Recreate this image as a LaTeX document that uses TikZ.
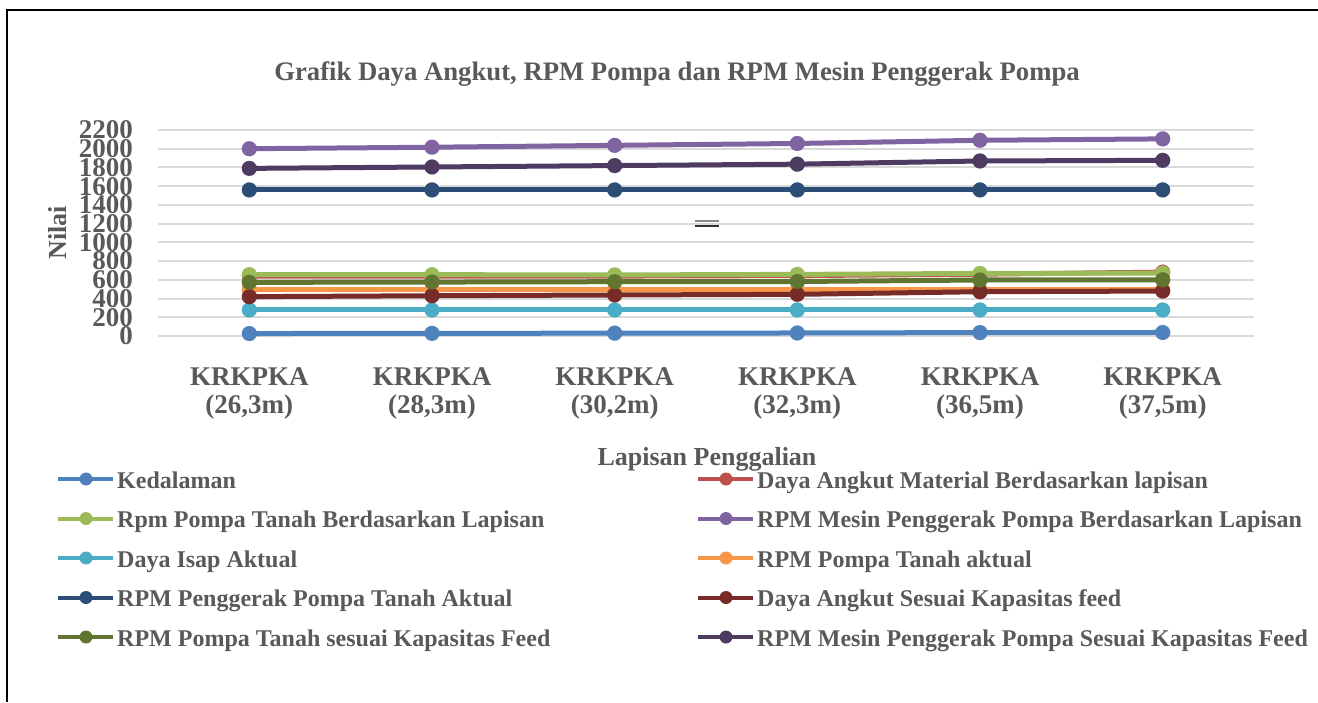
\documentclass[tikz,border=0pt]{standalone}
\usepackage{fontspec}
\setmainfont{Liberation Serif}
\usetikzlibrary{calc}
\definecolor{kedalaman}{HTML}{4F81BD}
\definecolor{angkutlapisan}{HTML}{C0504D}
\definecolor{pompalapisan}{HTML}{9BBB59}
\definecolor{mesinlapisan}{HTML}{8064A2}
\definecolor{isapaktual}{HTML}{4BACC6}
\definecolor{pompaaktual}{HTML}{F79646}
\definecolor{penggerakaktual}{HTML}{2C4D75}
\definecolor{angkutfeed}{HTML}{772C2A}
\definecolor{pompafeed}{HTML}{5F7530}
\definecolor{mesinfeed}{HTML}{4D3B62}
\definecolor{labelgray}{HTML}{595959}
\definecolor{gridgray}{HTML}{D9D9D9}
\def\serie[#1](#2,#3,#4,#5,#6,#7){\draw[serie,#1] plot coordinates {(249.3,#2) (432,#3) (614.7,#4) (797.3,#5) (980,#6) (1162.7,#7)};}
\def\legendkey[#1](#2,#3)#4#5{\draw[keyline,#4] ($(#2,#3)+(-28,0)$) -- ($(#2,#3)+(27,0)$);
	\fill[#4] (#2,#3) circle (6.5pt);
	\node[keytext] (#1) at ($(#2,#3)+(31,9)$) {#5};}

\begin{document}
\begin{tikzpicture}[x=1pt, y=-1pt,
	serie/.style={line width=5pt, line join=round, mark=*, mark size=7.5pt, mark options={line width=0.1pt}},
	keyline/.style={line width=4pt},
	keytext/.style={anchor=base west, inner sep=0pt, text=labelgray, font=\fontsize{24}{26}\selectfont\bfseries},
	ticktext/.style={anchor=east, inner sep=0pt, text=labelgray, font=\fontsize{27}{27}\selectfont\bfseries},
	cattext/.style={anchor=base, inner sep=0pt, align=center, text=labelgray, font=\fontsize{27}{28}\selectfont\bfseries},
	grid/.style={line width=2pt, color=gridgray}]
		%%%%% START %%%%%
		
		\useasboundingbox (0, 0) rectangle (1318, 702);
		\draw[line width=2pt] (7, 702) -- (7, 10) -- (1318, 10);
		
		\node[anchor=base, text=labelgray, font=\fontsize{26.7}{27}\selectfont\bfseries] (title) at (677, 80) {Grafik Daya Angkut, RPM Pompa dan RPM Mesin Penggerak Pompa};
		
		\begin{scope}[yshift=-336pt, y=0.093636pt]
		\draw[grid] (158, 0) -- (1254, 0);
		\draw[grid] (158, 200) -- (1254, 200);
		\draw[grid] (158, 400) -- (1254, 400);
		\draw[grid] (158, 600) -- (1254, 600);
		\draw[grid] (158, 800) -- (1254, 800);
		\draw[grid] (158, 1000) -- (1254, 1000);
		\draw[grid] (158, 1200) -- (1254, 1200);
		\draw[grid] (158, 1400) -- (1254, 1400);
		\draw[grid] (158, 1600) -- (1254, 1600);
		\draw[grid] (158, 1800) -- (1254, 1800);
		\draw[grid] (158, 2000) -- (1254, 2000);
		\draw[grid] (158, 2200) -- (1254, 2200);
		
		\node[ticktext] (t0) at (133, 0) {0};
		\node[ticktext] (t200) at (133, 200) {200};
		\node[ticktext] (t400) at (133, 400) {400};
		\node[ticktext] (t600) at (133, 600) {600};
		\node[ticktext] (t800) at (133, 800) {800};
		\node[ticktext] (t1000) at (133, 1000) {1000};
		\node[ticktext] (t1200) at (133, 1200) {1200};
		\node[ticktext] (t1400) at (133, 1400) {1400};
		\node[ticktext] (t1600) at (133, 1600) {1600};
		\node[ticktext] (t1800) at (133, 1800) {1800};
		\node[ticktext] (t2000) at (133, 2000) {2000};
		\node[ticktext] (t2200) at (133, 2200) {2200};
		
		\serie[kedalaman](26.3, 28.3, 30.2, 32.3, 36.5, 37.5)
		\serie[angkutlapisan](640, 640, 640, 645, 660, 682)
		\serie[pompalapisan](655, 655, 652, 658, 668, 672)
		\serie[mesinlapisan](2000, 2016, 2036, 2056, 2090, 2105)
		\serie[isapaktual](278, 278, 278, 278, 278, 278)
		\serie[pompaaktual](495, 495, 495, 495, 495, 495)
		\serie[penggerakaktual](1560, 1560, 1560, 1560, 1560, 1560)
		\serie[angkutfeed](420, 430, 438, 445, 473, 480)
		\serie[pompafeed](573, 576, 580, 582, 598, 600)
		\serie[mesinfeed](1790, 1805, 1820, 1835, 1869, 1876)
		\end{scope}
		
		\draw[line width=1.5pt, color=black!45] (695, 221) -- (719, 221);
		\draw[line width=1.8pt, color=black!80] (695, 226) -- (719, 226);
		
		\node[cattext] (c1) at (249.3, 413) {KRKPKA\\(26,3m)};
		\node[cattext] (c2) at (432, 413) {KRKPKA\\(28,3m)};
		\node[cattext] (c3) at (614.7, 413) {KRKPKA\\(30,2m)};
		\node[cattext] (c4) at (797.3, 413) {KRKPKA\\(32,3m)};
		\node[cattext] (c5) at (980, 413) {KRKPKA\\(36,5m)};
		\node[cattext] (c6) at (1162.7, 413) {KRKPKA\\(37,5m)};
		
		\node[anchor=base, inner sep=0pt, text=labelgray, font=\fontsize{26}{26}\selectfont\bfseries] (xtitle) at (707, 465) {Lapisan Penggalian};
		\node[rotate=90, inner sep=0pt, text=labelgray, font=\fontsize{26}{26}\selectfont\bfseries] (ytitle) at (58, 233) {Nilai};
		
		\legendkey[k1](86, 479){kedalaman}{Kedalaman}
		\legendkey[k3](86, 518.5){pompalapisan}{Rpm Pompa Tanah Berdasarkan Lapisan}
		\legendkey[k5](86, 558){isapaktual}{Daya Isap Aktual}
		\legendkey[k7](86, 597.5){penggerakaktual}{RPM Penggerak Pompa Tanah Aktual}
		\legendkey[k9](86, 637){pompafeed}{RPM Pompa Tanah sesuai Kapasitas Feed}
		\legendkey[k2](726, 479){angkutlapisan}{Daya Angkut Material Berdasarkan lapisan}
		\legendkey[k4](726, 518.5){mesinlapisan}{RPM Mesin Penggerak Pompa Berdasarkan Lapisan}
		\legendkey[k6](726, 558){pompaaktual}{RPM Pompa Tanah aktual}
		\legendkey[k8](726, 597.5){angkutfeed}{Daya Angkut Sesuai Kapasitas feed}
		\legendkey[k10](726, 637){mesinfeed}{RPM Mesin Penggerak Pompa Sesuai Kapasitas Feed}
		
		%%%%% END %%%%%
\end{tikzpicture}
\end{document}
